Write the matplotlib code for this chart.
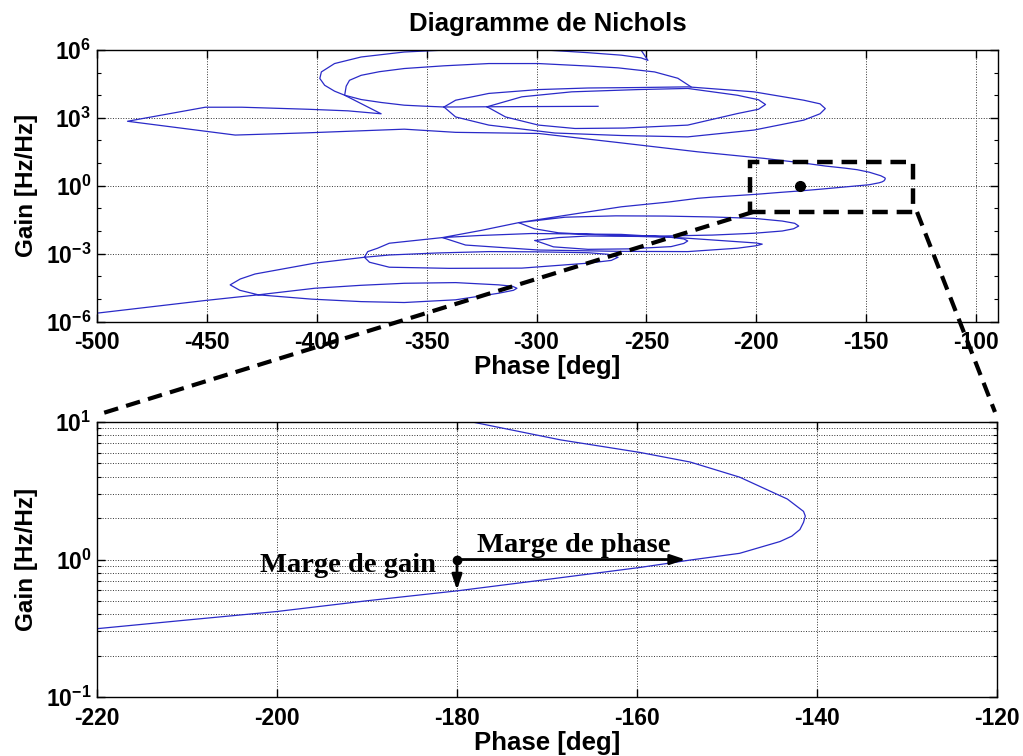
import numpy as np
import matplotlib
matplotlib.use('Agg')
import matplotlib.pyplot as plt
from matplotlib.ticker import FixedLocator, FuncFormatter, NullLocator, LogLocator
from matplotlib.patches import Rectangle
from matplotlib.lines import Line2D

plt.rcParams['font.family'] = ['Liberation Sans', 'DejaVu Sans']
plt.rcParams['font.weight'] = 'bold'
plt.rcParams['axes.labelweight'] = 'bold'
plt.rcParams['axes.titleweight'] = 'bold'
plt.rcParams['axes.unicode_minus'] = False
plt.rcParams['mathtext.fontset'] = 'custom'
plt.rcParams['mathtext.bf'] = 'Liberation Sans:bold'
plt.rcParams['mathtext.rm'] = 'Liberation Sans:bold'

# Nichols curve: phase [deg] and log10 of the gain
# V at the top, outer arc and the flat segment near 10^3
arc_phase = [-252.4, -252.4, -249.3, -252.4, -261.4, -276.5, -294.6, -317, -335, -342.9,
             -360.2, -379.8, -391.9, -397.9, -398.6, -396.4, -391.9, -387.3, -379.8, -370.7,
             -360.2, -351.9, -342.1, -322.5, -300, -272]
arc_lg = [6.5, 5.99, 5.54, 5.65, 5.77, 5.88, 5.99, 6.3, 6.3, 5.99,
          5.91, 5.69, 5.40, 5.03, 4.74, 4.44, 4.18, 4.00, 3.81, 3.68,
          3.56, 3.52, 3.48, 3.49, 3.50, 3.51]

# outer loop around 10^3
loop_o_phase = [-342.1, -336.8, -321.7, -299.1, -276.5, -253.8, -231.2, -201.1, -178.4, -171,
                -168.6, -171, -178.4, -201.1, -231.2, -261.4, -291.6, -321.7, -336.8, -342.1]
loop_o_lg = [3.48, 3.78, 4.08, 4.25, 4.32, 4.34, 4.37, 4.15, 3.78, 3.62,
             3.41, 3.18, 2.90, 2.46, 2.16, 2.22, 2.33, 2.68, 3.04, 3.48]

# inner loop around 10^3
loop_i_phase = [-322.5, -306.7, -284.0, -253.8, -231.2, -208.6, -199, -195.8, -199, -208.6,
                -231.2, -260, -282.5, -299.1, -314.1, -322.5]
loop_i_lg = [3.49, 3.93, 4.15, 4.25, 4.30, 4.00, 3.80, 3.59, 3.38, 3.19,
             2.68, 2.55, 2.53, 2.68, 3.04, 3.49]

# small loop around 10^-2.5
loop_f_phase = [-300.6, -290, -276.5, -253.8, -238.8, -233, -231.2, -233, -238.8, -258.4,
                -276.5, -292.3, -300.6]
loop_f_lg = [-2.42, -2.29, -2.22, -2.24, -2.28, -2.35, -2.44, -2.55, -2.69, -2.79,
             -2.81, -2.70, -2.42]

# main branch: inner arc, left arrow, crossing near -180 deg, then the lower loops
main_phase = [-229.7, -235.7, -246.3, -262.9, -276.5, -299.1, -321.7, -342.1, -360.2, -371.5,
              -379.8, -385.1, -386.6, -387.3, -370.7, -385.8, -403.9, -434.1, -450.7, -486.1,
              -450.7, -437.1, -403.9, -385.1, -360.2, -336.8, -299.1, -262.9, -226.7, -196.5,
              -178.3, -168.5, -159.7, -154.1, -148.6, -144.9, -143.3, -142.3, -141.5, -141.3,
              -141.5, -141.9, -142.8, -144.1,
              -148.6, -154.1, -159.7, -170, -180, -190, -200, -210, -220, -226.7,
              -240, -261.4, -285, -308.1,
              -287.0, -264, -241.8, -220, -201.1, -188.2, -182.5, -180.7, -183, -188.2,
              -201.1, -220, -241.8, -265, -290, -301, -308.1,
              -325, -342.8,
              -326.2, -302.1, -261.4, -231.2, -208.6, -200, -197.3, -200, -208.6, -231.2,
              -261.4, -299.1, -332.3, -342.8,
              -367, -372.3, -376.8, -378.3,
              -367, -345, -321.7, -300, -276.5, -267.4, -262.9, -266, -276.5, -306.7,
              -339.8, -367, -376, -378.3,
              -400.9, -428.1, -434.8, -439.4,
              -435, -426.6, -402.4, -379.8, -360.2, -336.8, -317.2, -310.5, -308.9, -311,
              -317.2, -336.8, -360.2, -380, -400.9, -426.6, -450.7, -500, -510]
main_lg = [4.37, 4.75, 5.03, 5.21, 5.29, 5.40, 5.40, 5.30, 5.18, 5.04,
           4.88, 4.66, 4.40, 4.00, 3.18, 3.31, 3.38, 3.47, 3.47, 2.85,
           2.41, 2.24, 2.34, 2.41, 2.50, 2.36, 2.31, 1.91, 1.50, 1.21,
           1.00, 0.87, 0.779, 0.709, 0.599, 0.488, 0.44, 0.390, 0.35, 0.316,
           0.27, 0.218, 0.17, 0.131,
           0.045, -0.004, -0.058, -0.145, -0.228, -0.30, -0.378, -0.44, -0.503, -0.556,
           -0.72, -0.93, -1.28, -1.63,
           -1.39, -1.33, -1.34, -1.38, -1.44, -1.56, -1.66, -1.78, -1.90, -2.00,
           -2.10, -2.18, -2.22, -2.20, -2.08, -1.90, -1.63,
           -1.97, -2.29,
           -2.20, -2.11, -2.15, -2.32, -2.47, -2.53, -2.58, -2.65, -2.76, -2.91,
           -2.90, -2.84, -2.62, -2.29,
           -2.54, -2.76, -2.91, -3.16,
           -3.06, -2.97, -2.91, -2.92, -2.96, -3.03, -3.16, -3.30, -3.42, -3.64,
           -3.65, -3.60, -3.38, -3.16,
           -3.42, -3.90, -4.12, -4.38,
           -4.62, -4.82, -5.01, -5.12, -5.16, -5.04, -4.75, -4.62, -4.53, -4.44,
           -4.38, -4.28, -4.31, -4.40, -4.53, -4.82, -5.07, -5.63, -5.75]

pieces = [(arc_phase, arc_lg), (loop_o_phase, loop_o_lg), (loop_i_phase, loop_i_lg),
          (loop_f_phase, loop_f_lg), (main_phase, main_lg)]

# stability margins point
crit_phase = -180
crit_gain = 1.0
gm_gain = 0.6       # curve gain at -180 deg
pm_phase = -154.6   # curve phase at gain 1

curve_color = '#2a2ac8'

fig = plt.figure(figsize=(10.23, 7.56), dpi=100)
ax1 = fig.add_axes([0.0948, 0.5747, 0.8808, 0.3592])
ax2 = fig.add_axes([0.0948, 0.0780, 0.8798, 0.3638])

for ph, lg in pieces:
    ax1.plot(ph, 10.0 ** np.array(lg), color=curve_color, lw=0.9)
    ax2.plot(ph, 10.0 ** np.array(lg), color=curve_color, lw=0.9)

def pow_fmt(v, pos):
    return r'$\mathbf{10^{%d}}$' % int(round(np.log10(v)))

# top: full Nichols plot
ax1.set_yscale('log')
ax1.set_xlim(-500, -90)
ax1.set_ylim(1e-6, 1e6)
ax1.xaxis.set_major_locator(FixedLocator(np.arange(-500, -99, 50)))
ax1.yaxis.set_major_locator(FixedLocator([1e-6, 1e-3, 1, 1e3, 1e6]))
ax1.yaxis.set_minor_locator(FixedLocator([10.0 ** k for k in range(-6, 7)]))
ax1.yaxis.set_major_formatter(FuncFormatter(pow_fmt))
ax1.yaxis.set_minor_formatter(FuncFormatter(lambda v, p: ''))
ax1.grid(True, which='major', linestyle=':', color='0.2', lw=0.7)
ax1.plot(crit_phase, crit_gain, 'o', color='k', ms=7)
ax1.set_title('Diagramme de Nichols', fontsize=18.5, pad=14)
ax1.set_xlabel('Phase [deg]', fontsize=18.5)
ax1.set_ylabel('Gain [Hz/Hz]', fontsize=17.5)
ax1.xaxis.set_label_coords(0.5, -0.123)
ax1.yaxis.set_label_coords(-0.066, 0.5)

# zoom box in the top plot
box = Rectangle((-202.7, 10 ** -1.15), 74.0, 10 ** 1.03 - 10 ** -1.15, fill=False,
                edgecolor='k', lw=3.2, ls=(0, (3.5, 2.0)), clip_on=False, zorder=5)
ax1.add_patch(box)

# bottom: zoom near the critical point
ax2.set_yscale('log')
ax2.set_xlim(-220, -120)
ax2.set_ylim(0.1, 10)
ax2.xaxis.set_major_locator(FixedLocator(np.arange(-220, -119, 20)))
ax2.xaxis.set_minor_locator(NullLocator())
ax2.yaxis.set_major_locator(FixedLocator([0.1, 1, 10]))
ax2.yaxis.set_minor_locator(LogLocator(base=10, subs=np.arange(2, 10), numticks=10))
ax2.yaxis.set_major_formatter(FuncFormatter(pow_fmt))
ax2.yaxis.set_minor_formatter(FuncFormatter(lambda v, p: ''))
ax2.grid(True, which='both', axis='y', linestyle=':', color='0.2', lw=0.7)
ax2.grid(True, which='major', axis='x', linestyle=':', color='0.2', lw=0.7)
ax2.set_xlabel('Phase [deg]', fontsize=18.5)
ax2.set_ylabel('Gain [Hz/Hz]', fontsize=17.5)
ax2.xaxis.set_label_coords(0.5, -0.124)
ax2.yaxis.set_label_coords(-0.066, 0.5)

ax2.plot(crit_phase, crit_gain, 'o', color='k', ms=6, zorder=6)
arrow = dict(arrowstyle='-|>,head_length=0.9,head_width=0.3', color='k', lw=2,
             shrinkA=0, shrinkB=0)
ax2.annotate('', xy=(pm_phase, crit_gain), xytext=(crit_phase, crit_gain), arrowprops=arrow)
ax2.annotate('', xy=(crit_phase, gm_gain), xytext=(crit_phase, crit_gain), arrowprops=arrow)
ax2.text(-182.4, 10 ** -0.09, 'Marge de gain', ha='right', va='baseline', fontsize=20.5,
         family=['Liberation Serif', 'DejaVu Serif'], fontweight='bold')
ax2.text(-177.8, 10 ** 0.058, 'Marge de phase', ha='left', va='baseline', fontsize=20.5,
         family=['Liberation Serif', 'DejaVu Serif'], fontweight='bold')

for ax in (ax1, ax2):
    ax.tick_params(which='both', direction='in', top=True, right=True, labelsize=16.5)
    ax.tick_params(which='major', length=6, width=1)
    ax.tick_params(which='minor', length=3, width=0.8)
    ax.tick_params(axis='x', pad=7)
    ax.tick_params(axis='y', pad=4)
    for s in ax.spines.values():
        s.set_linewidth(1.0)

# dashed lines joining the box to the zoomed plot
dash = dict(color='k', lw=3.0, ls=(0, (3.5, 2.0)), transform=fig.transFigure)
fig.add_artist(Line2D([0.7361, 0.0978], [0.7196, 0.4524], **dash))
fig.add_artist(Line2D([0.8964, 0.9726], [0.7196, 0.4550], **dash))

fig.savefig('out.png', dpi=100)
